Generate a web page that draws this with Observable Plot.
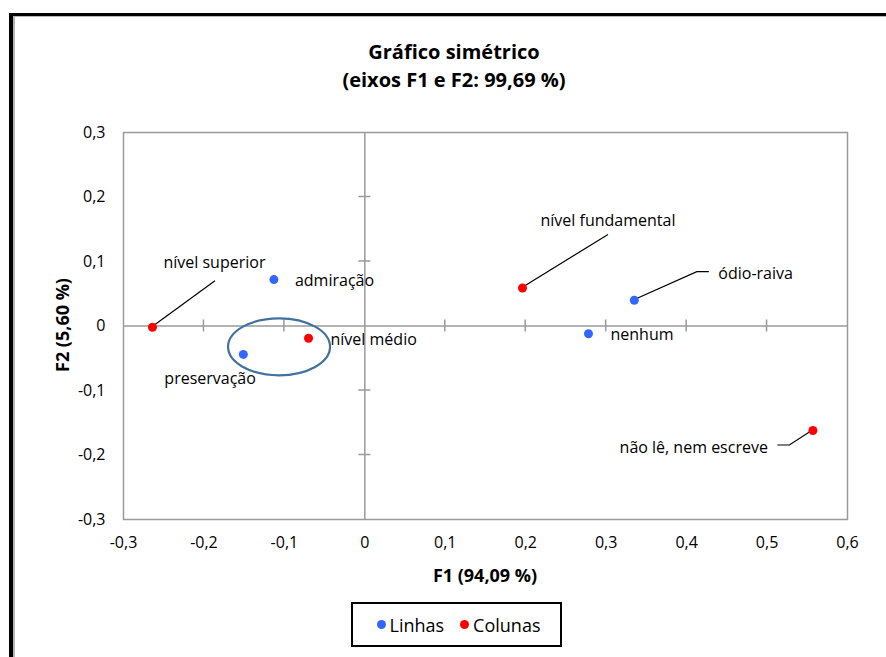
<!DOCTYPE html>
<html><head><meta charset="utf-8">
<script src="https://cdn.jsdelivr.net/npm/d3@7"></script>
<script src="https://cdn.jsdelivr.net/npm/@observablehq/plot@0.6"></script>
<style>
body{margin:0;background:#fff;font-family:"Open Sans",sans-serif;}
#wrap{position:relative;width:886px;height:657px;overflow:hidden;background:#fff;}
#frame{position:absolute;left:9px;top:13px;width:1000px;height:1000px;border-left:4px solid #000;border-top:3px solid #000;}
#inner{position:absolute;left:13px;top:16px;width:1000px;height:1000px;border-left:2px solid #b4b4b4;border-top:1px solid #b4b4b4;}
#title{position:absolute;left:0;width:908px;top:38px;text-align:center;font-weight:bold;font-size:20px;line-height:28px;color:#000;}
#plot{position:absolute;left:0;top:0;}
#xlab{position:absolute;left:385px;width:200px;top:562px;text-align:center;font-weight:bold;font-size:18px;line-height:26px;}
#ylab{position:absolute;left:-38px;width:200px;top:312px;text-align:center;font-weight:bold;font-size:18px;line-height:26px;transform:rotate(-90deg);}
#legend{position:absolute;left:351px;top:602px;width:203px;height:41px;border:2px solid #000;display:flex;align-items:center;justify-content:center;font-size:18px;gap:16px;padding-left:4px;box-sizing:content-box;}
.li{display:flex;align-items:center;gap:4px;}
.sw{width:9px;height:9px;border-radius:50%;display:inline-block;}
</style></head>
<body><div id="wrap">
<div id="frame"></div><div id="inner"></div>
<div id="title">Gráfico simétrico<br>(eixos F1 e F2: 99,69 %)</div>
<div id="plot"></div>
<div id="xlab">F1 (94,09 %)</div>
<div id="ylab">F2 (5,60 %)</div>
<div id="legend"></div>
</div>
<script>
// ---- data ----
const rowNames = ["admiração", "preservação", "ódio-raiva", "nenhum"];
const rowF1 = [-0.113, -0.151, 0.335, 0.278];
const rowF2 = [0.072, -0.044, 0.040, -0.012];
const colNames = ["nível superior", "nível médio", "nível fundamental", "não lê, nem escreve"];
const colF1 = [-0.264, -0.070, 0.196, 0.557];
const colF2 = [-0.002, -0.019, 0.059, -0.162];
const seriesNames = ["Linhas", "Colunas"];
const xTicks = [-0.3, -0.2, -0.1, 0, 0.1, 0.2, 0.3, 0.4, 0.5, 0.6];
const yTicks = [-0.3, -0.2, -0.1, 0, 0.1, 0.2, 0.3];
const highlight = {f1: -0.106, f2: -0.033}; // centre of the highlighted group

// ---- styling / label placement (pixels) ----
const colors = {Linhas: "#3366ff", Colunas: "#ff0000"};
const labelStyle = {
  "nível superior": {dx: 11, dy: -64, anchor: "start", leader: [[0, 0], [63, -46]]},
  "admiração": {dx: 21, dy: 1, anchor: "start"},
  "preservação": {dx: -79, dy: 24, anchor: "start"},
  "nível médio": {dx: 22, dy: 2, anchor: "start"},
  "nível fundamental": {dx: 18, dy: -67, anchor: "start", leader: [[0, 0], [86, -53]]},
  "ódio-raiva": {dx: 84, dy: -26, anchor: "start", leader: [[0, 0], [63, -28], [75, -28]]},
  "nenhum": {dx: 22, dy: 1, anchor: "start"},
  "não lê, nem escreve": {dx: -45, dy: 17, anchor: "end", leader: [[0, 0], [-23, 15], [-35, 15]]}
};
const ellipseR = {rx: 51, ry: 28.5};

const pts = [
  ...rowNames.map((n, i) => ({name: n, f1: rowF1[i], f2: rowF2[i], s: seriesNames[0]})),
  ...colNames.map((n, i) => ({name: n, f1: colF1[i], f2: colF2[i], s: seriesNames[1]}))
];
const fmt = d => (Math.round(d * 10) / 10).toString().replace(".", ",");
const grey = "#9a9a9a";
const svgNS = "http://www.w3.org/2000/svg";

const crossTicks = (index, scales) => {
  const g = document.createElementNS(svgNS, "g");
  const x0 = scales.x(0), y0 = scales.y(0);
  const add = (x1, y1, x2, y2) => {
    const l = document.createElementNS(svgNS, "line");
    l.setAttribute("x1", x1); l.setAttribute("y1", y1); l.setAttribute("x2", x2); l.setAttribute("y2", y2);
    l.setAttribute("stroke", grey); l.setAttribute("stroke-width", 1.5);
    g.appendChild(l);
  };
  xTicks.slice(1, -1).forEach(t => { if (t !== 0) add(scales.x(t), y0 - 6, scales.x(t), y0 + 6); });
  yTicks.slice(1, -1).forEach(t => { if (t !== 0) add(x0 - 6, scales.y(t), x0 + 6, scales.y(t)); });
  return g;
};
const leaders = (index, scales) => {
  const g = document.createElementNS(svgNS, "g");
  pts.forEach(p => {
    const st = labelStyle[p.name];
    if (!st.leader) return;
    const px = scales.x(p.f1), py = scales.y(p.f2);
    const path = document.createElementNS(svgNS, "path");
    path.setAttribute("d", "M" + st.leader.map(([a, b]) => (px + a) + "," + (py + b)).join("L"));
    path.setAttribute("fill", "none"); path.setAttribute("stroke", "#000"); path.setAttribute("stroke-width", 1.2);
    g.appendChild(path);
  });
  return g;
};
const ellipse = (index, scales) => {
  const e = document.createElementNS(svgNS, "ellipse");
  e.setAttribute("cx", scales.x(highlight.f1)); e.setAttribute("cy", scales.y(highlight.f2));
  e.setAttribute("rx", ellipseR.rx); e.setAttribute("ry", ellipseR.ry);
  e.setAttribute("fill", "none"); e.setAttribute("stroke", "#41719c"); e.setAttribute("stroke-width", 2.2);
  return e;
};

const chart = Plot.plot({
  width: 886, height: 657,
  marginLeft: 123, marginRight: 39, marginTop: 132, marginBottom: 138,
  style: {fontFamily: "Open Sans", fontSize: "16px", background: "transparent", color: "#000"},
  x: {domain: [-0.3, 0.6], ticks: xTicks, tickFormat: fmt, tickSize: 0, tickPadding: 17, label: null},
  y: {domain: [-0.3, 0.3], ticks: yTicks, tickFormat: fmt, tickSize: 0, tickPadding: 18, label: null},
  marks: [
    Plot.frame({stroke: grey, strokeWidth: 1.5}),
    Plot.ruleX([0], {stroke: grey, strokeWidth: 1.5}),
    Plot.ruleY([0], {stroke: grey, strokeWidth: 1.5}),
    crossTicks,
    leaders,
    Plot.dot(pts, {x: "f1", y: "f2", r: 4.5, fill: d => colors[d.s], stroke: null}),
    ellipse,
    ...pts.map(p => Plot.text([p], {x: "f1", y: "f2", text: "name", dx: labelStyle[p.name].dx, dy: labelStyle[p.name].dy,
      textAnchor: labelStyle[p.name].anchor, fontSize: 16, fill: "#000"}))
  ]
});
document.getElementById("plot").appendChild(chart);

const leg = document.getElementById("legend");
seriesNames.forEach(s => {
  const it = document.createElement("div"); it.className = "li";
  const sw = document.createElement("span"); sw.className = "sw"; sw.style.background = colors[s];
  const t = document.createElement("span"); t.textContent = s;
  it.appendChild(sw); it.appendChild(t); leg.appendChild(it);
});
</script>
</body></html>
